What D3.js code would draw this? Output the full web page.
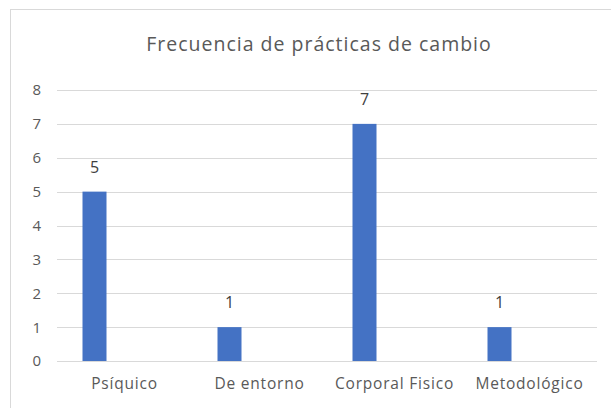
<!DOCTYPE html>
<html>
<head>
<meta charset="utf-8">
<script src="https://cdn.jsdelivr.net/npm/d3@7"></script>
<style>
  body { margin: 0; background: #fff; }
  text { font-family: "Open Sans", Lato, sans-serif; }
</style>
</head>
<body>
<div class="container"></div>
<script>
var categories = ["Psíquico", "De entorno", "Corporal Fisico", "Metodológico"];
var values = [5, 1, 7, 1];
var yTicks = [0, 1, 2, 3, 4, 5, 6, 7, 8];
var title = "Frecuencia de prácticas de cambio";

var W = 611, H = 408;
var margin = { top: 90, right: 14, bottom: 47, left: 57 },
    width = W - margin.left - margin.right,
    height = H - margin.top - margin.bottom;

var root = d3.select(".container")
    .append("svg")
    .attr("width", W)
    .attr("height", H);

// chart frame (runs off the right and bottom edges)
root.append("rect")
    .attr("x", 10.5)
    .attr("y", 9.5)
    .attr("width", 640)
    .attr("height", 440)
    .attr("fill", "none")
    .attr("stroke", "#d9d9d9");

root.append("text")
    .attr("x", 319)
    .attr("y", 51)
    .attr("text-anchor", "middle")
    .attr("fill", "#595959")
    .style("font-size", "19.5px")
    .style("letter-spacing", "1px")
    .text(title);

var svg = root.append("g")
    .attr("transform", "translate(" + margin.left + "," + margin.top + ")");

var x = d3.scaleBand()
    .domain(categories)
    .range([0, width]);

var y = d3.scaleLinear()
    .domain([0, 8])
    .range([height, 0]);

// gridlines
svg.append("g")
    .selectAll("line")
    .data(yTicks)
    .enter()
    .append("line")
    .attr("x1", 0)
    .attr("x2", width)
    .attr("y1", function (d) { return Math.round(y(d)) + 0.5; })
    .attr("y2", function (d) { return Math.round(y(d)) + 0.5; })
    .attr("stroke", "#d9d9d9");

// y labels
svg.append("g")
    .selectAll("text")
    .data(yTicks)
    .enter()
    .append("text")
    .attr("x", -16)
    .attr("y", function (d) { return y(d); })
    .attr("dy", "0.36em")
    .attr("text-anchor", "end")
    .attr("fill", "#595959")
    .style("font-size", "15px")
    .text(function (d) { return d; });

// clustered layout: the visible series sits left of the category centre
var barW = 24;
var barX = function (d, i) {
    return x(categories[i]) + x.bandwidth() / 2 - 30 - barW / 2;
};

svg.append("g")
    .selectAll("rect")
    .data(values)
    .enter()
    .append("rect")
    .attr("x", barX)
    .attr("y", function (d) { return y(d); })
    .attr("width", barW)
    .attr("height", function (d) { return height - y(d); })
    .attr("fill", "#4472c4");

svg.append("g")
    .selectAll("text")
    .data(values)
    .enter()
    .append("text")
    .attr("x", function (d, i) { return barX(d, i) + barW / 2; })
    .attr("y", function (d) { return y(d) - 19; })
    .attr("text-anchor", "middle")
    .attr("fill", "#404040")
    .style("font-size", "16px")
    .text(function (d) { return d; });

// category labels
svg.append("g")
    .selectAll("text")
    .data(categories)
    .enter()
    .append("text")
    .attr("x", function (d) { return x(d) + x.bandwidth() / 2; })
    .attr("y", height + 28)
    .attr("text-anchor", "middle")
    .attr("fill", "#595959")
    .style("font-size", "15.5px")
    .style("letter-spacing", "0.8px")
    .text(function (d) { return d; });
</script>
</body>
</html>
